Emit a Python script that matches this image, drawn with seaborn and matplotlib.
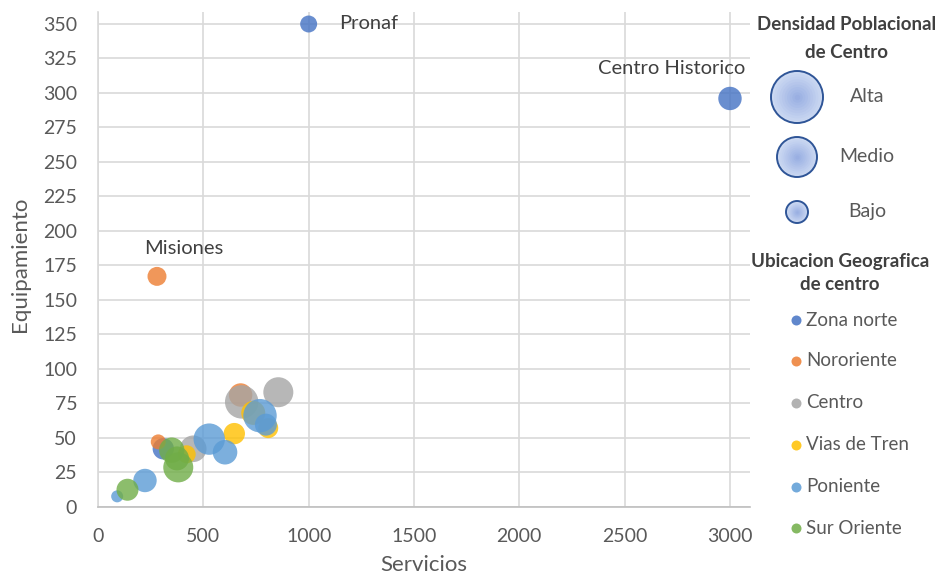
import numpy as np
import pandas as pd
import seaborn as sns
import matplotlib.pyplot as plt

# Zones and their colours (series order also sets the drawing order)
zonas = ["Zona norte", "Nororiente", "Centro", "Vias de Tren", "Poniente", "Sur Oriente"]
colores = ["#4472C4", "#ED7D31", "#A5A5A5", "#FFC000", "#5B9BD5", "#70AD47"]

# One entry per centre
zona = (["Zona norte"] * 3 + ["Nororiente"] * 3 + ["Centro"] * 3 +
        ["Vias de Tren"] * 4 + ["Poniente"] * 6 + ["Sur Oriente"] * 4)
servicios = [1000, 3000, 310,
             280, 286, 677,
             452, 682, 856,
             421, 647, 737, 808,
             91, 223, 528, 603, 769, 797,
             140, 350, 375, 381]
equipamiento = [350, 296, 42,
                167, 47, 81,
                42, 76, 83,
                38, 53, 68, 57,
                7.5, 19, 49, 39.5, 66, 59.5,
                12.3, 41, 35, 28.5]
densidad = [72, 137, 114,
            90, 56, 137,
            177, 279, 225,
            81, 114, 144, 100,
            36, 137, 246, 151, 279, 121,
            121, 161, 144, 225]
nombre = ["Pronaf", "Centro Historico", "",
          "Misiones", "", "",
          "", "", "",
          "", "", "", "",
          "", "", "", "", "", "",
          "", "", "", ""]

niveles = ["Alta", "Medio", "Bajo"]

df = pd.DataFrame({"zona": zona, "servicios": servicios,
                   "equipamiento": equipamiento, "densidad": densidad,
                   "nombre": nombre})

sns.set_style("white")
plt.rcParams["font.family"] = ["Lato", "DejaVu Sans"]

W, H = 948, 584
fig = plt.figure(figsize=(W / 100, H / 100), dpi=100)
ax = fig.add_axes([98 / W, 1 - 506.7 / H, (750 - 98) / W, (506.7 - 12) / H])

# bubble area proportional to density: s = (1.44 * r_px)^2, r_px^2 ~ densidad
k = (1.44) ** 2
dmin, dmax = min(densidad), max(densidad)
sns.scatterplot(data=df, x="servicios", y="equipamiento", hue="zona",
                hue_order=zonas, palette=colores, size="densidad",
                sizes=(dmin * k, dmax * k), size_norm=(dmin, dmax),
                alpha=0.8, linewidth=0, legend=False, ax=ax, clip_on=False)

ax.set_xlim(0, 3095)
ax.set_ylim(0, 358.7)
ax.set_xticks(np.arange(0, 3001, 500))
ax.set_yticks(np.arange(0, 351, 25))
ax.grid(True, color="#D9D9D9", lw=1.2)
ax.set_axisbelow(True)
for s in ["top", "right"]:
    ax.spines[s].set_visible(False)
ax.spines["left"].set_color("#D9D9D9")
ax.spines["left"].set_linewidth(1.2)
ax.spines["bottom"].set_color("#BFBFBF")
ax.spines["bottom"].set_linewidth(1.2)
ax.tick_params(axis="both", length=0, labelsize=14, labelcolor="#595959")
ax.tick_params(axis="y", pad=15)
ax.tick_params(axis="x", pad=15)

ax.set_xlabel("Servicios", fontsize=16, color="#595959")
ax.set_ylabel("Equipamiento", fontsize=16, color="#595959")
ax.xaxis.set_label_coords(0.5, -0.098)
ax.yaxis.set_label_coords(-0.105, 0.49)

# point labels
desplaz = {"Pronaf": (30, 0, "left"),
           "Centro Historico": (-58, 30, "center"),
           "Misiones": (27, 28, "center")}
for _, row in df[df["nombre"] != ""].iterrows():
    dx, dy, ha = desplaz[row["nombre"]]
    ax.annotate(row["nombre"], (row["servicios"], row["equipamiento"]),
                xytext=(dx, dy), textcoords="offset pixels",
                ha=ha, va="center", fontsize=14.5, color="#404040")

# legend panel drawn in figure pixel coordinates
lg = fig.add_axes([0, 0, 1, 1], facecolor="none")
lg.set_xlim(0, W)
lg.set_ylim(H, 0)
lg.axis("off")

lg.text(847, 25, "Densidad Poblacional", ha="center", va="center",
        fontsize=13.5, fontweight="bold", color="#404040")
lg.text(847, 52, "de Centro", ha="center", va="center",
        fontsize=13.5, fontweight="bold", color="#404040")

radios = [26, 20, 11]
ys_niv = [97, 157, 212]
c_out = np.array([0.80, 0.85, 0.95])
c_in = np.array([0.58, 0.67, 0.88])
for lab, r, yy in zip(niveles, radios, ys_niv):
    for f in np.linspace(1, 0.1, 10):
        col = c_in + (c_out - c_in) * f
        lg.scatter([797], [yy], s=(1.44 * r * f) ** 2, color=col, lw=0, zorder=2)
    lg.scatter([797], [yy], s=(1.44 * r) ** 2, facecolor="none",
               edgecolor="#2F5597", lw=1.4, zorder=3)
    lg.text(867, yy - 1, lab, ha="center", va="center", fontsize=14, color="#595959")

lg.text(840, 261, "Ubicacion Geografica", ha="center", va="center",
        fontsize=13.5, fontweight="bold", color="#404040")
lg.text(840, 285, "de centro", ha="center", va="center",
        fontsize=13.5, fontweight="bold", color="#404040")
ys_zona = [320, 361, 403, 445, 487, 528]
for z, c, yy in zip(zonas, colores, ys_zona):
    lg.scatter([796], [yy], s=(1.44 * 5) ** 2, color=c, alpha=0.85, lw=0)
    lg.text(806, yy, z, ha="left", va="center", fontsize=13.5, color="#595959")

fig.savefig("out.png", dpi=100)
